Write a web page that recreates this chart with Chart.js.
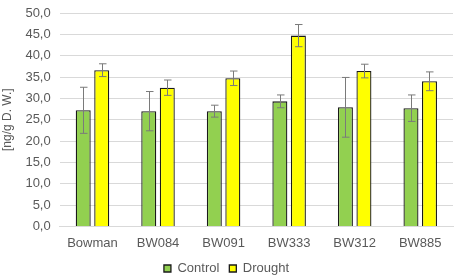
<!DOCTYPE html>
<html>
<head>
<meta charset="utf-8">
<script src="https://cdn.jsdelivr.net/npm/chart.js@4.4.1/dist/chart.umd.min.js"></script>
<style>
  html, body { margin: 0; padding: 0; background: #fff; }
  #wrap { width: 459px; height: 279px; }
</style>
</head>
<body>
<div id="wrap"><canvas id="myChart" width="459" height="279"></canvas></div>
<script>
// values
const genotypes = ['Bowman', 'BW084', 'BW091', 'BW333', 'BW312', 'BW885'];
const control = [27.2, 27.0, 27.0, 29.3, 27.9, 27.7];
const controlErr = [5.4, 4.6, 1.4, 1.5, 7.0, 3.1];
const drought = [36.6, 32.5, 34.7, 44.7, 36.4, 34.0];
const droughtErr = [1.5, 1.8, 1.7, 2.6, 1.6, 2.2];

// little plugin for the error bars
const errorBars = {
    id: 'errorBars',
    afterDatasetsDraw(chart) {
        const ctx = chart.ctx;
        const yScale = chart.scales.y;
        ctx.save();
        ctx.strokeStyle = '#7a7a7a';
        ctx.lineWidth = 1;
        chart.data.datasets.forEach((ds, i) => {
            const meta = chart.getDatasetMeta(i);
            meta.data.forEach((bar, j) => {
                const v = ds.data[j];
                const e = ds.errors[j];
                const x = Math.round(bar.x) + 0.5;
                const yTop = yScale.getPixelForValue(v + e);
                const yBot = yScale.getPixelForValue(v - e);
                ctx.beginPath();
                ctx.moveTo(x, yTop);
                ctx.lineTo(x, yBot);
                ctx.moveTo(x - 3.5, yTop);
                ctx.lineTo(x + 4, yTop);
                ctx.moveTo(x - 3.5, yBot);
                ctx.lineTo(x + 4, yBot);
                ctx.stroke();
            });
        });
        ctx.restore();
    }
};

var ctx = document.getElementById('myChart').getContext('2d');
var myChart = new Chart(ctx, {
    type: 'bar',
    data: {
        labels: genotypes,
        datasets: [
            {
                label: 'Control',
                data: control,
                errors: controlErr,
                backgroundColor: '#92D050',
                borderColor: '#1a1a1a',
                borderWidth: 1.3
            },
            {
                label: 'Drought',
                data: drought,
                errors: droughtErr,
                backgroundColor: '#FFFF00',
                borderColor: '#1a1a1a',
                borderWidth: 1.3
            }
        ]
    },
    options: {
        responsive: false,
        animation: false,
        devicePixelRatio: 1,
        categoryPercentage: 0.565,
        barPercentage: 0.81,
        layout: { padding: { left: 0, right: 6, top: 0, bottom: -6 } },
        scales: {
            x: {
                grid: { display: false },
                border: { color: '#d9d9d9' },
                ticks: { color: '#595959', font: { family: 'Liberation Sans', size: 13 }, padding: 1 }
            },
            y: {
                min: 0,
                max: 50,
                afterFit: (scale) => { scale.paddingTop = 13; },
                ticks: {
                    stepSize: 5,
                    color: '#595959',
                    font: { family: 'Liberation Sans', size: 13 },
                    padding: 9,
                    callback: (v) => v.toFixed(1).replace('.', ',')
                },
                grid: { color: '#d9d9d9', drawTicks: false },
                border: { display: false },
                title: {
                    display: true,
                    text: '[ng/g D. W.]',
                    color: '#595959',
                    font: { family: 'Liberation Sans', size: 12 },
                    padding: { top: 0, bottom: 2 }
                }
            }
        },
        plugins: {
            legend: {
                position: 'bottom',
                labels: {
                    boxWidth: 7,
                    boxHeight: 7,
                    padding: 10,
                    color: '#595959',
                    font: { family: 'Liberation Sans', size: 13 }
                }
            },
            tooltip: { enabled: false }
        }
    },
    plugins: [errorBars]
});
</script>
</body>
</html>
